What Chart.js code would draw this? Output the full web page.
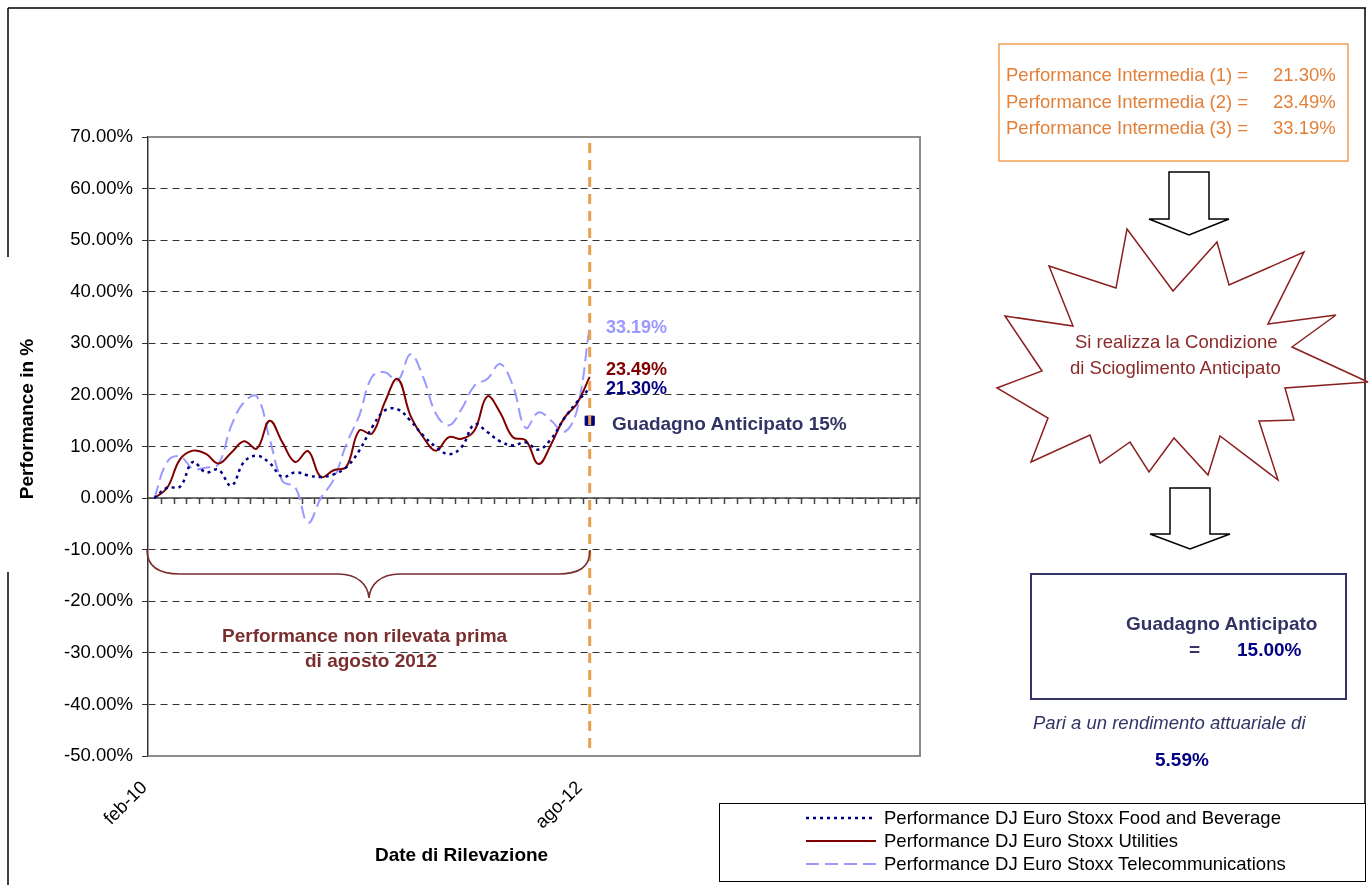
<!DOCTYPE html>
<html lang="it">
<head>
<meta charset="UTF-8">
<title>Performance DJ Euro Stoxx</title>
<script src="https://cdn.jsdelivr.net/npm/chart.js"></script>
<style>
  body { margin:0; background:#fff; font-family:"Liberation Sans", Arial, sans-serif; }
  #wrap { position:relative; width:1369px; height:885px; overflow:hidden; }
  #chart, svg { position:absolute; left:0; top:0; }
  .t { position:absolute; white-space:nowrap; line-height:1; transform:translateY(-50%); }
  .b { font-weight:bold; }
  #legend { position:absolute; left:719px; top:803px; width:645px; height:77px; border:1.5px solid #000; }
  #legend .row { position:absolute; left:86px; height:22px; display:flex; align-items:center; font-size:18.5px; color:#000; }
  #legend svg { position:static; margin-right:6px; }
</style>
</head>
<body>
<div id="wrap">
  <canvas id="chart" width="1369" height="885"></canvas>

  <svg width="1369" height="885">
    <!-- cornice -->
    <g stroke="#000" stroke-width="1.5" fill="none">
      <line x1="8" y1="8" x2="1366" y2="8"/>
      <line x1="8" y1="8" x2="8" y2="257"/>
      <line x1="8" y1="572" x2="8" y2="885"/>
      <line x1="1365" y1="8" x2="1365" y2="803"/>
    </g>
    <!-- parentesi graffa -->
    <path d="M147,550 C147,568 160,574 180,574 L338,574 C358,574 368,585 369,598 C370,585 380,574 400,574 L558,574 C578,574 590,568 590,550"
          stroke="#7a2e2e" stroke-width="1.6" fill="none"/>
    <!-- riquadro performance intermedie -->
    <rect x="999" y="44" width="349" height="117" fill="none" stroke="#f0a055" stroke-width="1.5"/>
    <!-- frecce -->
    <polygon points="1169,172 1209,172 1209,219 1229,219 1189,235 1149,219 1169,219" fill="#fff" stroke="#000" stroke-width="1.5"/>
    <polygon points="1170,488 1210,488 1210,534 1230,534 1190,549 1150,534 1170,534" fill="#fff" stroke="#000" stroke-width="1.5"/>
    <!-- esplosione -->
    <polygon points="1127,229 1173,291 1217,242 1229,285 1304,252 1268,324 1336,315 1292,347 1368,382 1285,388 1294,420 1259,421 1278,480 1220,436 1208,475 1174,438 1149,472 1130,442 1100,463 1090,435 1031,462 1048,418 997,388 1042,371 1005,316 1073,326 1049,266 1116,288"
             fill="#fff" stroke="#8b1f1f" stroke-width="1.5"/>
    <!-- riquadro guadagno -->
    <rect x="1031" y="574" width="315" height="125" fill="none" stroke="#333366" stroke-width="2"/>
  </svg>

  <div class="t" style="left:1006px;top:75px;font-size:18.5px;color:#e2803a">Performance Intermedia (1) =</div>
  <div class="t" style="left:1273px;top:75px;font-size:18.5px;color:#e2803a">21.30%</div>
  <div class="t" style="left:1006px;top:102px;font-size:18.5px;color:#e2803a">Performance Intermedia (2) =</div>
  <div class="t" style="left:1273px;top:102px;font-size:18.5px;color:#e2803a">23.49%</div>
  <div class="t" style="left:1006px;top:128px;font-size:18.5px;color:#e2803a">Performance Intermedia (3) =</div>
  <div class="t" style="left:1273px;top:128px;font-size:18.5px;color:#e2803a">33.19%</div>

  <div class="t" style="left:1075px;top:342px;font-size:18.5px;color:#8b2a2a">Si realizza la Condizione</div>
  <div class="t" style="left:1070px;top:368px;font-size:18.5px;color:#8b2a2a">di Scioglimento Anticipato</div>

  <div class="t b" style="left:1126px;top:623px;font-size:19px;color:#333366">Guadagno Anticipato</div>
  <div class="t b" style="left:1189px;top:649px;font-size:19px;color:#333366">=</div>
  <div class="t b" style="left:1237px;top:649px;font-size:19px;color:#000080">15.00%</div>
  <div class="t" style="left:1033px;top:723px;font-size:18.5px;color:#333366;font-style:italic">Pari a un rendimento attuariale di</div>
  <div class="t b" style="left:1155px;top:759px;font-size:19px;color:#000080">5.59%</div>

  <div class="t b" style="left:606px;top:327px;font-size:18px;color:#9999ff">33.19%</div>
  <div class="t b" style="left:606px;top:369px;font-size:18px;color:#800000">23.49%</div>
  <div class="t b" style="left:606px;top:388px;font-size:18px;color:#000080">21.30%</div>
  <div class="t b" style="left:612px;top:423px;font-size:19px;color:#333366">Guadagno Anticipato 15%</div>

  <div class="t b" style="left:222px;top:635px;font-size:19px;color:#7a2e2e">Performance non rilevata prima</div>
  <div class="t b" style="left:305px;top:660px;font-size:19px;color:#7a2e2e">di agosto 2012</div>

  <div class="t b" style="left:26px;top:419px;font-size:19px;color:#000;transform:translate(-50%,-50%) rotate(-90deg)">Performance in %</div>
  <div class="t b" style="left:375px;top:854px;font-size:19px;color:#000">Date di Rilevazione</div>

  <div id="legend"></div>
</div>

<script>
// date di rilevazione (indice del periodo) con etichetta sull'asse
const tickIndex = [0, 34];
const tickLabels = ['feb-10', 'ago-12'];

// performance in %
const foodBeverage = [0, 2.0, 2.2, 7.0, 5.0, 5.5, 2.4, 7.0, 8.2, 6.8, 4.1, 5.0, 4.4, 4.1, 4.6, 6.0, 9.2, 13.7,
  17.0, 17.2, 15.0, 12.1, 9.9, 8.5, 9.9, 14.3, 12.8, 11.0, 10.2, 10.8, 9.4, 11.5, 15.4, 18.6, 21.3];
const utilities = [0, 2.0, 7.5, 9.2, 8.6, 6.7, 8.8, 11.0, 9.6, 15.0, 10.8, 7.0, 9.1, 4.1, 5.4, 6.1, 13.1, 12.5,
  18.6, 23.1, 16.0, 11.8, 9.2, 11.8, 11.5, 13.1, 19.7, 16.6, 11.8, 11.2, 6.6, 10.5, 15.5, 18.3, 23.49];
const telecom = [0, 7.0, 8.1, 5.7, 5.9, 6.6, 14.0, 18.6, 19.7, 11.5, 3.3, 2.1, -4.8, 0.0, 3.6, 10.5, 16.0, 23.5,
  24.4, 22.8, 27.9, 23.4, 16.3, 14.1, 17.3, 21.8, 23.1, 26.0, 21.8, 13.6, 16.6, 15.0, 12.8, 17.0, 33.19];

const seriesNames = ['Performance DJ Euro Stoxx Food and Beverage', 'Performance DJ Euro Stoxx Utilities',
  'Performance DJ Euro Stoxx Telecommunications'];
const earlyGainIndex = 34;
const earlyGain = 15;

const FONT = '"Liberation Sans", Arial, sans-serif';
const toPoints = arr => arr.map((v, i) => ({x: i, y: v}));

const styles = [
  {color: '#000080', dash: [3, 4], width: 2.5},
  {color: '#800000', dash: [], width: 2},
  {color: '#9999ff', dash: [13, 6], width: 2}
];
const series = [foodBeverage, utilities, telecom];

// asse a zero con tacche, cornice dell'area e linea della data di osservazione
const extras = {
  id: 'extras',
  beforeDatasetsDraw(chart) {
    const {ctx, chartArea: a, scales: {x, y}} = chart;
    ctx.save();
    ctx.strokeStyle = '#8c8c8c';
    ctx.lineWidth = 2;
    ctx.beginPath();
    ctx.moveTo(a.left, a.top); ctx.lineTo(a.right, a.top);
    ctx.lineTo(a.right, a.bottom); ctx.lineTo(a.left, a.bottom);
    ctx.stroke();
    const y0 = y.getPixelForValue(0);
    ctx.strokeStyle = '#444';
    ctx.lineWidth = 1.5;
    ctx.beginPath();
    ctx.moveTo(a.left, y0); ctx.lineTo(a.right, y0);
    for (let v = 0.5; x.getPixelForValue(v) < a.right - 2; v++) {
      const px = Math.round(x.getPixelForValue(v)) + 0.5;
      ctx.moveTo(px, y0); ctx.lineTo(px, y0 + 6);
    }
    ctx.stroke();
    ctx.restore();
  },
  afterDatasetsDraw(chart) {
    const {ctx, chartArea: a, scales: {x}} = chart;
    const px = x.getPixelForValue(earlyGainIndex);
    ctx.save();
    ctx.strokeStyle = '#e8a050';
    ctx.lineWidth = 3;
    ctx.setLineDash([10, 7]);
    ctx.beginPath();
    ctx.moveTo(px, a.top + 6); ctx.lineTo(px, a.bottom - 6);
    ctx.stroke();
    ctx.restore();
  }
};

const datasets = series.map((s, i) => ({
  label: seriesNames[i],
  data: toPoints(s),
  borderColor: styles[i].color,
  borderDash: styles[i].dash,
  borderWidth: styles[i].width,
  pointRadius: 0,
  tension: 0.4,
  fill: false
}));
datasets.push({
  label: 'Guadagno Anticipato',
  data: [{x: earlyGainIndex, y: earlyGain}],
  showLine: false,
  pointStyle: 'rect',
  pointRadius: 6.5,
  backgroundColor: '#000080',
  borderColor: '#000080'
});

new Chart(document.getElementById('chart'), {
  type: 'line',
  data: {datasets},
  options: {
    responsive: false,
    animation: false,
    layout: {padding: {top: 137, right: 449, left: 0, bottom: 0}},
    plugins: {legend: {display: false}, tooltip: {enabled: false}},
    scales: {
      x: {
        type: 'linear',
        min: -0.5,
        max: 59.8,
        afterBuildTicks: s => { s.ticks = tickIndex.map(v => ({value: v})); },
        afterFit: s => { s.height = 129; },
        grid: {display: false, drawTicks: false},
        border: {display: false},
        ticks: {
          autoSkip: false,
          minRotation: 45,
          maxRotation: 45,
          padding: 21,
          labelOffset: -10,
          color: '#000',
          font: {family: FONT, size: 18.5},
          callback: v => tickLabels[tickIndex.indexOf(v)]
        }
      },
      y: {
        min: -50,
        max: 70,
        afterFit: s => { s.width = 148; },
        grid: {color: '#333', lineWidth: 1, tickLength: 6, tickColor: '#333'},
        border: {color: '#333', width: 1.5, dash: [7, 5]},
        ticks: {
          stepSize: 10,
          padding: 9,
          color: '#000',
          font: {family: FONT, size: 18.5},
          callback: v => v.toFixed(2) + '%'
        }
      }
    }
  },
  plugins: [extras]
});

// legenda
const legend = document.getElementById('legend');
seriesNames.forEach((name, i) => {
  const row = document.createElement('div');
  row.className = 'row';
  row.style.top = (3 + i * 23) + 'px';
  const st = styles[i];
  row.innerHTML = '<svg width="72" height="10"><line x1="0" y1="5" x2="70" y2="5" stroke="' + st.color +
    '" stroke-width="' + st.width + '" stroke-dasharray="' + (st.dash.length ? st.dash.join(',') : 'none') + '"/></svg>' +
    '<span>' + name + '</span>';
  legend.appendChild(row);
});
</script>
</body>
</html>
